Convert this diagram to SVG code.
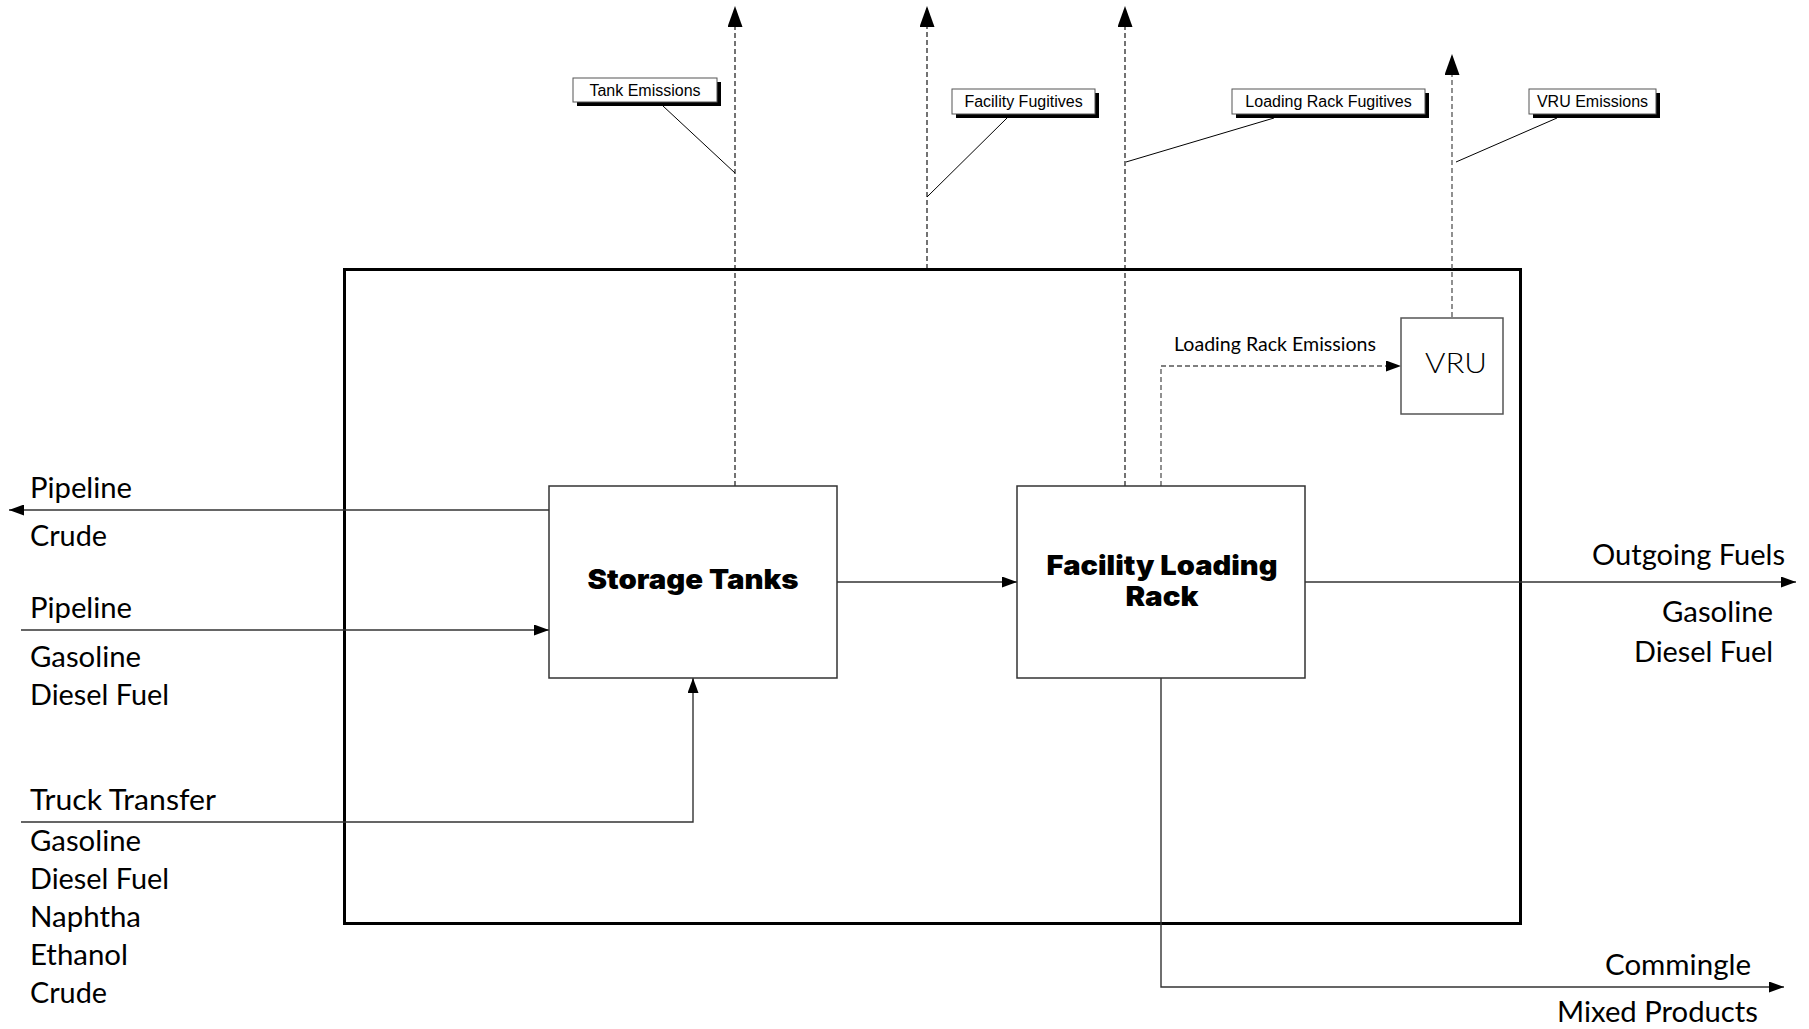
<svg xmlns="http://www.w3.org/2000/svg" width="1809" height="1029" viewBox="0 0 1809 1029">
<style>
  .bg { fill: #ffffff; }
  .node { fill: #ffffff; stroke: #333333; stroke-width: 1.5; }
  .vru { fill: #ffffff; stroke: #555555; stroke-width: 1.5; }
  .outer { fill: none; stroke: #000000; stroke-width: 3; }
  .flow { fill: none; stroke: #333333; stroke-width: 1.4; }
  .dash { fill: none; stroke: #000000; stroke-width: 1.1; stroke-dasharray: 5 3; }
  .dashg { fill: none; stroke: #555555; stroke-width: 1.3; stroke-dasharray: 5 3; }
  .leader { fill: none; stroke: #000000; stroke-width: 1; }
  .callout { fill: #ffffff; stroke: #555555; stroke-width: 1; }
  .shadow { fill: #000000; }
  .lbl { font-family: Lato, "Open Sans", "Liberation Sans", sans-serif; font-size: 29px; fill: #000000; }
  .small { font-family: Lato, "Open Sans", "Liberation Sans", sans-serif; font-size: 20px; fill: #000000; }
  .co { font-family: "Liberation Sans", Arial, sans-serif; font-size: 16px; fill: #000000; text-anchor: middle; }
  .title { font-family: Inter, Roboto, Lato, "DejaVu Sans", sans-serif; font-weight: 900; font-size: 27px; fill: #000000; text-anchor: middle; }
  .vrut { font-family: Lato, "DejaVu Sans", sans-serif; font-weight: 300; font-size: 27px; fill: #000000; }
</style>
<defs>
  <marker id="ah" markerUnits="userSpaceOnUse" markerWidth="15" markerHeight="11" refX="15" refY="5.5" orient="auto">
    <path d="M0,0 L15,5.5 L0,11 z" fill="#000000"/>
  </marker>
  <marker id="ahBig" markerUnits="userSpaceOnUse" markerWidth="21" markerHeight="15" refX="21" refY="7.5" orient="auto">
    <path d="M0,0 L21,7.5 L0,15 z" fill="#000000"/>
  </marker>
</defs>
<rect class="bg" x="0" y="0" width="1809" height="1029"/>

<g id="facility-boundary">
  <rect class="outer" x="344.5" y="269.5" width="1176" height="654"/>
</g>

<g id="connectors">
  <path class="dash" d="M735,486 L735,6" marker-end="url(#ahBig)"/>
  <path class="dash" d="M927,269 L927,6" marker-end="url(#ahBig)"/>
  <path class="dash" d="M1125,486 L1125,6" marker-end="url(#ahBig)"/>
  <path class="dashg" d="M1452,317 L1452,54" marker-end="url(#ahBig)"/>
  <path class="dashg" d="M1161,486 L1161,366 L1401,366" marker-end="url(#ah)"/>
  <path class="flow" d="M549,510 L9,510" marker-end="url(#ah)"/>
  <path class="flow" d="M21,630 L549,630" marker-end="url(#ah)"/>
  <path class="flow" d="M21,822 L693,822 L693,678" marker-end="url(#ah)"/>
  <path class="flow" d="M837,582 L1017,582" marker-end="url(#ah)"/>
  <path class="flow" d="M1305,582 L1796,582" marker-end="url(#ah)"/>
  <path class="flow" d="M1161,678 L1161,987 L1784,987" marker-end="url(#ah)"/>
  <path class="leader" d="M663,106 L735,173"/>
  <path class="leader" d="M1007,118 L927,197"/>
  <path class="leader" d="M1274,118 L1126,162"/>
  <path class="leader" d="M1557,118 L1456,162"/>
</g>

<g id="storage-tanks">
  <rect class="node" x="549" y="486" width="288" height="192"/>
  <text class="title" x="693" y="589" textLength="211" lengthAdjust="spacingAndGlyphs">Storage Tanks</text>
</g>

<g id="facility-loading-rack">
  <rect class="node" x="1017" y="486" width="288" height="192"/>
  <text class="title" x="1162" y="575" textLength="231" lengthAdjust="spacingAndGlyphs">Facility Loading</text>
  <text class="title" x="1162" y="606" textLength="73" lengthAdjust="spacingAndGlyphs">Rack</text>
</g>

<g id="vru">
  <rect class="vru" x="1401" y="318" width="102" height="96"/>
  <text class="vrut" x="1425" y="373" textLength="62" lengthAdjust="spacingAndGlyphs">VRU</text>
</g>

<g id="tank-emissions">
  <rect class="shadow" x="577" y="82" width="144" height="24"/>
  <rect class="callout" x="573" y="78" width="144" height="24"/>
  <text class="co" x="645" y="95.5">Tank Emissions</text>
</g>

<g id="facility-fugitives">
  <rect class="shadow" x="956" y="93" width="143" height="25"/>
  <rect class="callout" x="952" y="89" width="143" height="25"/>
  <text class="co" x="1023.5" y="107">Facility Fugitives</text>
</g>

<g id="loading-rack-fugitives">
  <rect class="shadow" x="1236" y="93" width="193" height="25"/>
  <rect class="callout" x="1232" y="89" width="193" height="25"/>
  <text class="co" x="1328.5" y="107">Loading Rack Fugitives</text>
</g>

<g id="vru-emissions">
  <rect class="shadow" x="1533" y="93" width="127" height="25"/>
  <rect class="callout" x="1529" y="89" width="127" height="25"/>
  <text class="co" x="1592.5" y="107">VRU Emissions</text>
</g>

<g id="flow-labels">
  <text class="small" x="1174" y="351" textLength="202" lengthAdjust="spacingAndGlyphs">Loading Rack Emissions</text>

  <text class="lbl" x="30" y="498" textLength="102" lengthAdjust="spacingAndGlyphs">Pipeline</text>
  <text class="lbl" x="30" y="546" textLength="77" lengthAdjust="spacingAndGlyphs">Crude</text>

  <text class="lbl" x="30" y="618" textLength="102" lengthAdjust="spacingAndGlyphs">Pipeline</text>
  <text class="lbl" x="30" y="667" textLength="111" lengthAdjust="spacingAndGlyphs">Gasoline</text>
  <text class="lbl" x="30" y="705" textLength="139" lengthAdjust="spacingAndGlyphs">Diesel Fuel</text>

  <text class="lbl" x="30" y="810" textLength="186" lengthAdjust="spacingAndGlyphs">Truck Transfer</text>
  <text class="lbl" x="30" y="851" textLength="111" lengthAdjust="spacingAndGlyphs">Gasoline</text>
  <text class="lbl" x="30" y="889" textLength="139" lengthAdjust="spacingAndGlyphs">Diesel Fuel</text>
  <text class="lbl" x="30" y="927" textLength="111" lengthAdjust="spacingAndGlyphs">Naphtha</text>
  <text class="lbl" x="30" y="965" textLength="98" lengthAdjust="spacingAndGlyphs">Ethanol</text>
  <text class="lbl" x="30" y="1003" textLength="77" lengthAdjust="spacingAndGlyphs">Crude</text>

  <text class="lbl" x="1592" y="565" textLength="193" lengthAdjust="spacingAndGlyphs">Outgoing Fuels</text>
  <text class="lbl" x="1662" y="622" textLength="111" lengthAdjust="spacingAndGlyphs">Gasoline</text>
  <text class="lbl" x="1634" y="662" textLength="139" lengthAdjust="spacingAndGlyphs">Diesel Fuel</text>

  <text class="lbl" x="1605" y="975" textLength="146" lengthAdjust="spacingAndGlyphs">Commingle</text>
  <text class="lbl" x="1557" y="1022" textLength="201" lengthAdjust="spacingAndGlyphs">Mixed Products</text>
</g>
</svg>
